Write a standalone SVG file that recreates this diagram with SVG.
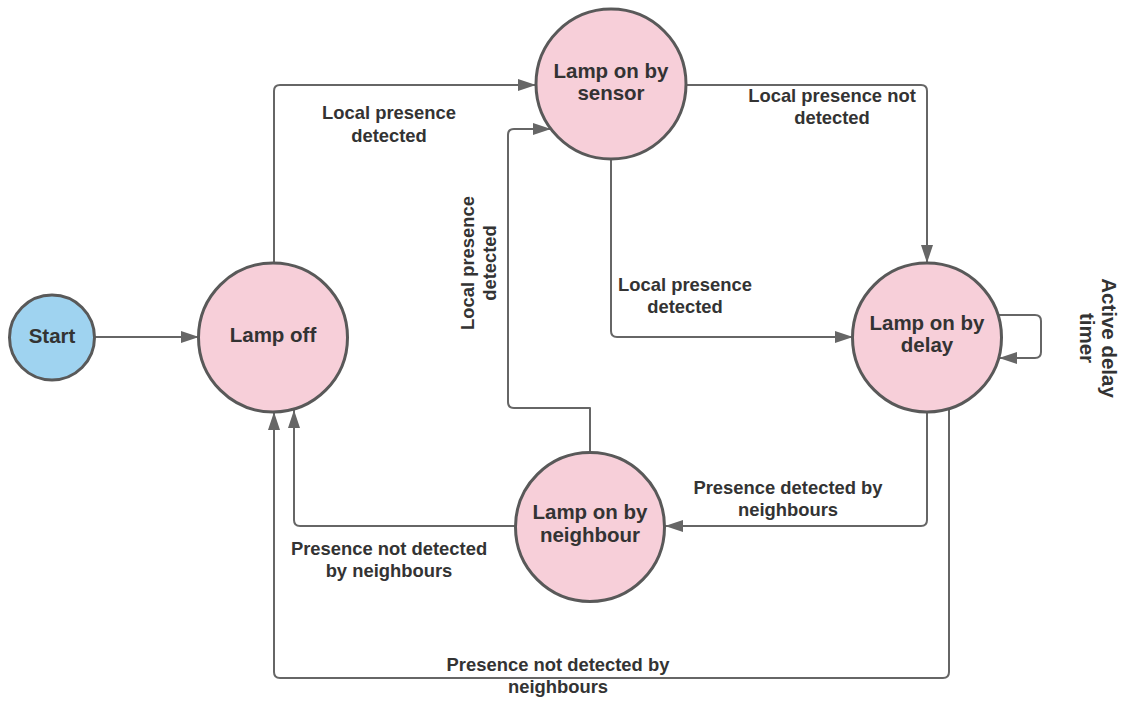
<svg xmlns="http://www.w3.org/2000/svg" width="1121" height="706" viewBox="0 0 1121 706">
  <defs>
    <style>
      .node { stroke: #595959; stroke-width: 3; }
      .state { fill: #F7CFD9; }
      .start { fill: #9FD3F0; }
      .ntext { font-family: "Liberation Sans", Arial, sans-serif; font-weight: bold; font-size: 20.5px; fill: #333333; text-anchor: middle; }
      .ltext { font-family: "Liberation Sans", Arial, sans-serif; font-weight: bold; font-size: 18.4px; fill: #333333; text-anchor: middle; }
      .edge { fill: none; stroke: #666666; stroke-width: 2; stroke-linejoin: round; }
    </style>
    <marker id="arrow" markerUnits="userSpaceOnUse" markerWidth="18" markerHeight="12" refX="18" refY="6" orient="auto">
      <path d="M0,0 L18,6 L0,12 z" fill="#666666"/>
    </marker>
  </defs>
  <rect width="1121" height="706" fill="#ffffff"/>

  <g id="connectors">
    <path class="edge" marker-end="url(#arrow)" d="M95,337 L199,337"/>
    <path class="edge" marker-end="url(#arrow)" d="M274,263 L274,91 Q274,85 280,85 L536,85"/>
    <path class="edge" marker-end="url(#arrow)" d="M686,85 L921,85 Q927,85 927,91 L927,263"/>
    <path class="edge" marker-end="url(#arrow)" d="M611,159 L611,331 Q611,337 617,337 L853,337"/>
    <path class="edge" marker-end="url(#arrow)" d="M590,453 L590,408 L514,408 Q508,408 508,402 L508,135 Q508,129 514,129 L551,129"/>
    <path class="edge" marker-end="url(#arrow)" d="M927,412 L927,520 Q927,526 921,526 L665,526"/>
    <path class="edge" marker-end="url(#arrow)" d="M515,526 L300,526 Q294,526 294,520 L294,410"/>
    <path class="edge" marker-end="url(#arrow)" d="M949,409 L949,672 Q949,678 943,678 L280,678 Q274,678 274,672 L274,412"/>
    <path class="edge" marker-end="url(#arrow)" d="M998,315 L1035,315 Q1041,315 1041,321 L1041,352 Q1041,358 1035,358 L999,358"/>
  </g>

  <g id="labels">
    <text class="ltext" x="389" y="119">Local presence</text>
    <text class="ltext" x="389" y="142">detected</text>
    <text class="ltext" x="832" y="102">Local presence not</text>
    <text class="ltext" x="832" y="124">detected</text>
    <text class="ltext" x="685" y="291">Local presence</text>
    <text class="ltext" x="685" y="313">detected</text>
    <g transform="translate(474,263) rotate(-90)">
      <text class="ltext" x="0" y="0">Local presence</text>
      <text class="ltext" x="0" y="22">detected</text>
    </g>
    <g transform="translate(1102,338) rotate(90)">
      <text class="ntext" x="0" y="0">Active delay</text>
      <text class="ntext" x="0" y="22">timer</text>
    </g>
    <text class="ltext" x="788" y="494">Presence detected by</text>
    <text class="ltext" x="788" y="516">neighbours</text>
    <text class="ltext" x="389" y="555">Presence not detected</text>
    <text class="ltext" x="389" y="577">by neighbours</text>
    <text class="ltext" x="558" y="671">Presence not detected by</text>
    <text class="ltext" x="558" y="693">neighbours</text>
  </g>

  <g id="node-start">
    <circle class="node start" cx="52" cy="337.5" r="42.5"/>
    <text class="ntext" x="52" y="343">Start</text>
  </g>
  <g id="node-lamp-off">
    <circle class="node state" cx="273" cy="337.5" r="74.5"/>
    <text class="ntext" x="273" y="342">Lamp off</text>
  </g>
  <g id="node-sensor">
    <circle class="node state" cx="611" cy="84" r="75"/>
    <text class="ntext" x="611" y="78">Lamp on by</text>
    <text class="ntext" x="611" y="100">sensor</text>
  </g>
  <g id="node-delay">
    <circle class="node state" cx="927" cy="337.5" r="74.5"/>
    <text class="ntext" x="927" y="330">Lamp on by</text>
    <text class="ntext" x="927" y="352">delay</text>
  </g>
  <g id="node-neighbour">
    <circle class="node state" cx="590" cy="527" r="74.5"/>
    <text class="ntext" x="590" y="519">Lamp on by</text>
    <text class="ntext" x="590" y="542">neighbour</text>
  </g>
</svg>
